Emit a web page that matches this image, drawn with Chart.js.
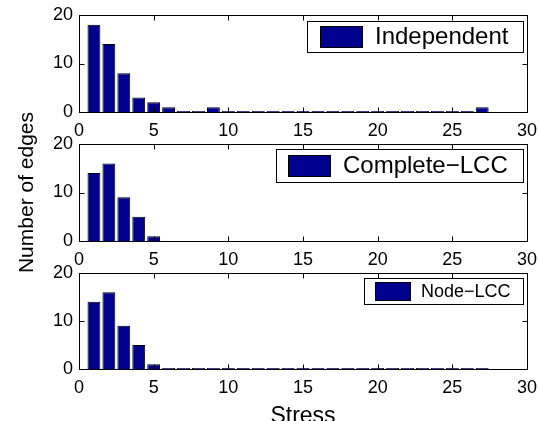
<!DOCTYPE html>
<html>
<head>
<meta charset="utf-8">
<script src="https://cdn.jsdelivr.net/npm/chart.js@4.4.1/dist/chart.umd.min.js"></script>
<style>
  body { margin: 0; background: white; }
  #wrap { position: relative; width: 539px; height: 421px; overflow: hidden; }
  canvas { position: absolute; left: 0; top: 0; }
</style>
</head>
<body>
<div id="wrap">
  <canvas id="g1" width="539" height="421"></canvas>
  <canvas id="g2" width="539" height="421"></canvas>
  <canvas id="g3" width="539" height="421"></canvas>
</div>
<script>
// dados (stress = posição da barra)
const stress = [1,2,3,4,5,6,7,8,9,10,11,12,13,14,15,16,17,18,19,20,21,22,23,24,25,26,27]
const independent = [18,14,8,3,2,1,0,0,1,0,0,0,0,0,0,0,0,0,0,0,0,0,0,0,0,0,1]
const completeLcc = [14,16,9,5,1]
const nodeLcc = [14,16,9,5,1,0,0,0,0,0,0,0,0,0,0,0,0,0,0,0,0,0,0,0,0,0,0]
const xTicks = [0,5,10,15,20,25,30]
const yTicks = [0,10,20]

Chart.defaults.font.family = '"Liberation Sans", Arial, sans-serif'
Chart.defaults.color = 'black'

const barColor = 'rgb(0,0,143)'

// moldura + ticks para dentro (estilo matlab)
const frame = {
  id: 'frame',
  afterDraw(chart) {
    const c = chart.ctx
    const a = chart.chartArea
    const xs = chart.scales.x, ys = chart.scales.y
    const L = Math.round(a.left) + 0.5, R = Math.round(a.right) + 0.5
    const T = Math.round(a.top) + 0.5, B = Math.round(a.bottom) + 0.5
    c.save()
    c.strokeStyle = 'black'
    c.lineWidth = 1
    c.strokeRect(L, T, R - L, B - T)
    c.beginPath()
    xTicks.forEach(v => {
      const x = Math.round(xs.getPixelForValue(v)) + 0.5
      c.moveTo(x, B); c.lineTo(x, B - 5)
      c.moveTo(x, T); c.lineTo(x, T + 5)
    })
    yTicks.forEach(v => {
      const y = Math.round(ys.getPixelForValue(v)) + 0.5
      c.moveTo(L, y); c.lineTo(L + 5, y)
      c.moveTo(R, y); c.lineTo(R - 5, y)
    })
    c.stroke()
    c.restore()
  }
}

// legenda dentro do gráfico
const boxLegend = {
  id: 'boxLegend',
  afterDraw(chart, args, o) {
    const c = chart.ctx
    const a = chart.chartArea
    const label = chart.data.datasets[0].label
    c.save()
    c.font = o.size + 'px "Liberation Sans", Arial, sans-serif'
    const tw = c.measureText(label).width
    const w = o.padL + o.patchW + o.gap + tw + o.padR
    const right = Math.round(a.right) - 4
    const left = right - Math.round(w)
    const top = Math.round(a.top) + o.dy
    c.fillStyle = 'white'
    c.fillRect(left, top, right - left, o.h)
    c.strokeStyle = 'black'
    c.lineWidth = 1
    c.strokeRect(left + 0.5, top + 0.5, right - left, o.h)
    const py = top + Math.round((o.h - o.patchH) / 2)
    c.fillStyle = barColor
    c.fillRect(left + o.padL, py, o.patchW, o.patchH)
    c.strokeRect(left + o.padL + 0.5, py + 0.5, o.patchW, o.patchH)
    c.fillStyle = 'black'
    c.textBaseline = 'middle'
    c.fillText(label, left + o.padL + o.patchW + o.gap, top + o.h / 2 + 1)
    c.restore()
  }
}

function makeChart(id, label, values, area, leg, extra) {
  const pts = values.map((v, i) => ({ x: stress[i], y: v }))
  const yScale = {
    min: 0, max: 20,
    grid: { display: false, drawTicks: false },
    border: { display: false },
    ticks: { stepSize: 10, font: { size: 18 }, padding: 6 },
    afterFit(s) { s.width = area.left; s.paddingTop = 0; s.paddingBottom = 0 }
  }
  const xScale = {
    type: 'linear', min: 0, max: 30, offset: false,
    grid: { display: false, drawTicks: false, offset: false },
    border: { display: false },
    ticks: { stepSize: 5, font: { size: 18 }, padding: 8, maxRotation: 0 },
    afterFit(s) { s.height = 421 - area.bottom; s.paddingLeft = 0; s.paddingRight = 0 }
  }
  if (extra.yTitle) yScale.title = extra.yTitle
  if (extra.xTitle) xScale.title = extra.xTitle
  return new Chart(document.getElementById(id), {
    type: 'bar',
    data: {
      datasets: [{
        label,
        data: pts,
        backgroundColor: barColor,
        borderColor: 'black',
        borderWidth: 1,
        minBarLength: 1,
        barPercentage: 0.86,
        categoryPercentage: 1
      }]
    },
    options: {
      responsive: false,
      animation: false,
      devicePixelRatio: 1,
      layout: { padding: { top: area.top, right: 539 - area.right, left: 0, bottom: 0 } },
      scales: { x: xScale, y: yScale },
      plugins: {
        legend: { display: false },
        tooltip: { enabled: false },
        boxLegend: leg
      }
    },
    plugins: [frame, boxLegend]
  })
}

makeChart('g1', 'Independent', independent,
  { left: 79, right: 527, top: 15, bottom: 112 },
  { size: 24, h: 31, dy: 6, padL: 13, patchW: 42, patchH: 21, gap: 13, padR: 15 }, {})

makeChart('g2', 'Complete\u2212LCC', completeLcc,
  { left: 79, right: 527, top: 144, bottom: 241 },
  { size: 24, h: 33, dy: 5, padL: 12, patchW: 42, patchH: 21, gap: 13, padR: 15 },
  { yTitle: { display: true, text: 'Number of edges', font: { size: 21 }, padding: { top: 15, bottom: 0 } } })

makeChart('g3', 'Node\u2212LCC', nodeLcc,
  { left: 79, right: 527, top: 273, bottom: 369 },
  { size: 18, h: 26, dy: 5, padL: 11, patchW: 35, patchH: 18, gap: 11, padR: 12 },
  { xTitle: { display: true, text: 'Stress', font: { size: 23 }, padding: { top: 0, bottom: -9 } } })
</script>
</body>
</html>
